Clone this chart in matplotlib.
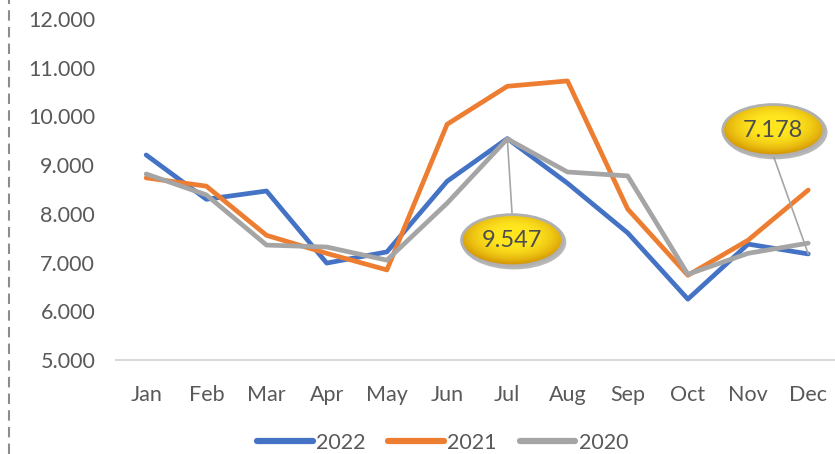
import numpy as np
import matplotlib
matplotlib.use('Agg')
import matplotlib.pyplot as plt
from matplotlib.patches import Ellipse
from matplotlib.lines import Line2D

plt.rcParams['font.family'] = ['Lato', 'DejaVu Sans']

months = ['Jan', 'Feb', 'Mar', 'Apr', 'May', 'Jun', 'Jul', 'Aug', 'Sep', 'Oct', 'Nov', 'Dec']
s2022 = [9.21, 8.30, 8.47, 6.99, 7.22, 8.67, 9.547, 8.63, 7.61, 6.25, 7.38, 7.178]
s2021 = [8.74, 8.57, 7.56, 7.19, 6.85, 9.84, 10.62, 10.73, 8.10, 6.74, 7.46, 8.49]
s2020 = [8.82, 8.39, 7.36, 7.32, 7.05, 8.22, 9.54, 8.86, 8.78, 6.76, 7.19, 7.40]
yticks = [5, 6, 7, 8, 9, 10, 11, 12]
ytick_labels = ['5.000', '6.000', '7.000', '8.000', '9.000', '10.000', '11.000', '12.000']

# callouts: (point index on 2022, label text, bubble centre in data coords)
callouts = [(6, '9.547', (6.08, 7.46)), (11, '7.178', (10.42, 9.72))]

text_col = '#595959'

fig = plt.figure(figsize=(8.35, 4.54), dpi=100)
ax = fig.add_axes([0.139, 0.207, 0.865, 0.751])

x = np.arange(len(months))
ax.plot(x, s2022, color='#4472C4', lw=3.4, label='2022', solid_capstyle='round', zorder=3)
ax.plot(x, s2021, color='#ED7D31', lw=3.4, label='2021', solid_capstyle='round', zorder=3)
ax.plot(x, s2020, color='#A5A5A5', lw=3.4, label='2020', solid_capstyle='round', zorder=3)

ax.set_xticks(x)
ax.set_xticklabels(months)
ax.set_yticks(yticks)
ax.set_yticklabels(ytick_labels)
ax.tick_params(axis='both', length=0, labelsize=15.5, colors=text_col)
ax.tick_params(axis='y', pad=15)
ax.tick_params(axis='x', pad=18)
for side in ['top', 'right', 'left']:
    ax.spines[side].set_visible(False)
ax.spines['bottom'].set_color('#D9D9D9')
ax.spines['bottom'].set_linewidth(1.5)

# yellow gradient for the callout bubbles
gy, gx = np.mgrid[-1:1:120j, -1:1:200j]
r = np.sqrt(gx ** 2 + (gy - 0.1) ** 2)
shade = np.clip(1.05 - 0.8 * r ** 2.5 + 0.1 * gy, 0, 1)
top = np.array([1.0, 0.90, 0.12])
bot = np.array([0.82, 0.56, 0.0])
grad = bot[None, None, :] + (top - bot)[None, None, :] * shade[:, :, None]
grad = np.clip(grad, 0, 1)

ew, eh = 1.68, 1.05
for idx, txt, (cx, cy) in callouts:
    py = s2022[idx]
    ey = cy + eh / 2 if cy < py else cy - eh / 2
    ax.plot([idx, cx], [py, ey], color='#A6A6A6', lw=1.2, zorder=4)
    shadow = Ellipse((cx + 0.03, cy - 0.04), ew + 0.06, eh + 0.07, facecolor='#9A9A9A',
                     edgecolor='none', alpha=0.7, zorder=5)
    ax.add_patch(shadow)
    ell = Ellipse((cx, cy), ew, eh, facecolor='none', edgecolor='#B0B0B0', lw=2, zorder=7)
    ax.add_patch(ell)
    im = ax.imshow(grad, extent=[cx - ew / 2, cx + ew / 2, cy - eh / 2, cy + eh / 2],
                   aspect='auto', zorder=6, interpolation='bilinear', origin='lower')
    im.set_clip_path(ell)
    ax.text(cx, cy, txt, ha='center', va='center', fontsize=17, color='#4D4D4D', zorder=8)

ax.set_xlim(-0.5, 11.5)
ax.set_ylim(5, 12)

leg = fig.legend(loc='center', bbox_to_anchor=(0.53, 1 - 443 / 454), ncol=3, frameon=False,
                 fontsize=15.5, handlelength=2.6, handletextpad=0.15, columnspacing=1.05)
for t in leg.get_texts():
    t.set_color(text_col)
for h in leg.get_lines():
    h.set_linewidth(4.5)
    h.set_solid_capstyle('round')

# dashed border at the left edge
fig.add_artist(Line2D([9 / 835, 9 / 835], [0, 1], transform=fig.transFigure,
                      color='#8C8C8C', lw=1.5, linestyle=(0, (5, 3))))

fig.savefig('out.png', dpi=100)
